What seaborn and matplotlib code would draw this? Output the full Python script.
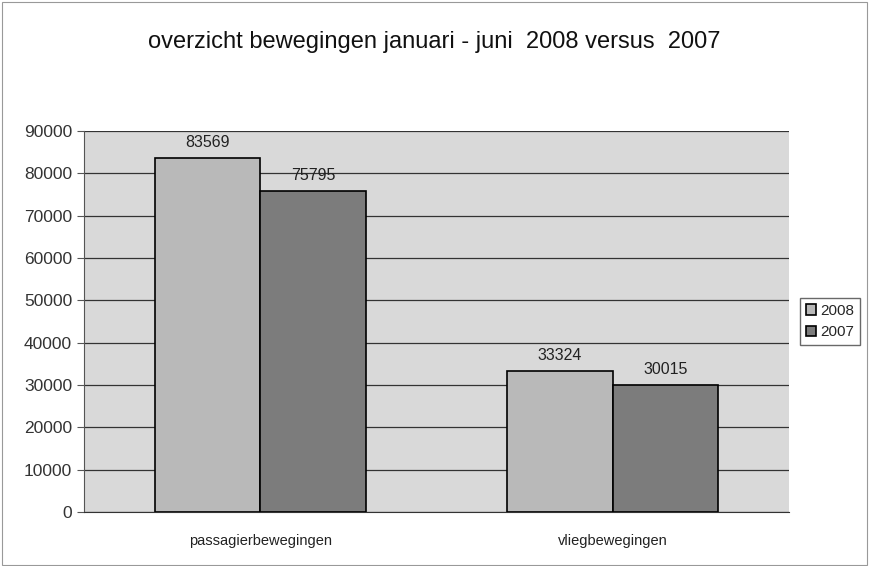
import seaborn as sns
import matplotlib.pyplot as plt
import pandas as pd

categories = ['passagierbewegingen', 'vliegbewegingen']
years = ['2008', '2007']
values_2008 = [83569, 33324]
values_2007 = [75795, 30015]

df = pd.DataFrame({
    'categorie': categories * 2,
    'jaar': [years[0]] * 2 + [years[1]] * 2,
    'aantal': values_2008 + values_2007,
})

sns.set_style('white')
plt.rcParams['font.family'] = ['Liberation Sans', 'DejaVu Sans']

fig = plt.figure(figsize=(8.69, 5.66), dpi=100)
ax = fig.add_axes([0.0967, 0.0954, 0.811, 0.673])

ax = sns.barplot(data=df, x='categorie', y='aantal', hue='jaar',
                 palette=['#b9b9b9', '#7c7c7c'], width=0.6,
                 edgecolor='black', linewidth=1.2, ax=ax, zorder=3)

ax.set_facecolor('#d9d9d9')
ax.set_ylim(0, 90000)
ax.set_yticks(range(0, 90001, 10000))
ax.yaxis.grid(True, color='#333333', linewidth=0.9, zorder=0)
ax.set_axisbelow(True)
ax.set(xlabel='', ylabel='')
for s in ['top', 'right']:
    ax.spines[s].set_visible(False)
ax.spines['left'].set_color('#555555')
ax.spines['bottom'].set_color('#333333')
ax.tick_params(axis='y', labelsize=12.5, length=5, left=True, color='#555555', colors='#333333')
ax.tick_params(axis='x', labelsize=10.5, pad=16, colors='#222222', length=0)

for c in ax.containers:
    ax.bar_label(c, fmt='%d', padding=6, fontsize=11.5, color='#222222')

fig.text(0.5, 0.925, 'overzicht bewegingen januari - juni  2008 versus  2007',
         ha='center', va='center', fontsize=17, color='#111111')

ax.legend(title=None, loc='center left', bbox_to_anchor=(1.012, 0.5),
          frameon=True, fontsize=11, handlelength=0.7, handleheight=0.7,
          handletextpad=0.25, borderpad=0.35, borderaxespad=0.2,
          fancybox=False, edgecolor='#444444')

fig.patches.append(plt.Rectangle((0.002, 0.002), 0.996, 0.994, transform=fig.transFigure,
                                 fill=False, edgecolor='#999999', linewidth=0.8))

fig.savefig('out.png', dpi=100, facecolor='white')
